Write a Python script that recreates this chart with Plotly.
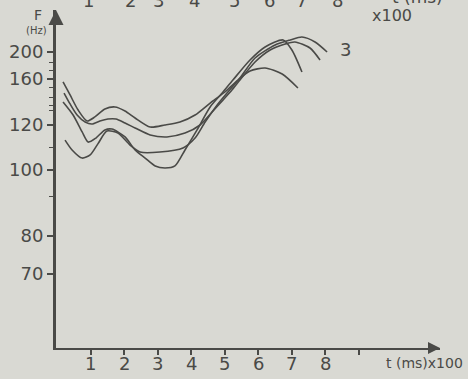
import numpy as np
import plotly.graph_objects as go

# ---- data (time in units of 100 ms, frequency in Hz) ----
t_a = [0.18, 0.39, 0.63, 0.90, 1.13, 1.43, 1.73, 2.03, 2.33, 2.78, 3.22, 3.67, 4.12, 4.57, 5.01, 5.40, 5.76, 6.21, 6.72, 7.19]
f_a = [157.4, 146.1, 133.0, 123.5, 127.0, 133.9, 135.7, 132.2, 126.1, 119.1, 120.0, 122.6, 128.7, 139.1, 148.7, 159.1, 171.9, 176.3, 167.4, 152.2]

t_b = [0.21, 0.39, 0.60, 0.84, 1.04, 1.28, 1.52, 1.76, 2.03, 2.33, 2.78, 3.28, 3.82, 4.27, 4.63, 4.93, 5.22, 5.46, 5.91, 6.36, 6.81, 7.10, 7.55, 7.85]
f_b = [147.8, 138.3, 128.7, 122.6, 120.9, 123.5, 125.2, 125.2, 121.7, 118.7, 115.6, 114.7, 116.4, 120.0, 131.3, 140.9, 150.4, 159.1, 185.2, 203.0, 211.8, 214.8, 205.9, 188.1]

t_c = [0.18, 0.48, 0.75, 0.93, 1.16, 1.43, 1.64, 2.03, 2.33, 2.63, 2.93, 3.22, 3.52, 3.82, 4.18, 4.57, 4.93, 5.25, 5.76, 6.21, 6.75, 7.01, 7.31]
f_c = [140.0, 128.7, 116.9, 112.4, 114.2, 117.8, 118.2, 114.7, 108.9, 105.3, 101.8, 100.9, 101.8, 108.9, 117.8, 135.7, 147.8, 159.1, 188.1, 207.4, 217.8, 203.0, 170.4]

t_d = [0.24, 0.45, 0.75, 0.99, 1.22, 1.49, 1.82, 2.18, 2.48, 3.07, 3.76, 4.12, 4.42, 4.78, 5.10, 5.46, 5.91, 6.51, 6.96, 7.31, 7.70, 8.06]
f_d = [113.3, 108.9, 105.3, 106.7, 111.6, 117.3, 116.4, 111.1, 108.0, 108.0, 109.8, 114.2, 122.6, 137.4, 148.7, 161.5, 191.1, 210.4, 217.8, 222.2, 214.8, 200.0]

x_tick_vals = [1, 2, 3, 4, 5, 6, 7, 8, 9]
x_tick_text = ["1", "2", "3", "4", "5", "6", "7", "8", ""]
y_tick_hz = [70, 80, 100, 120, 160, 200]
y_minor_hz = [185, 173, 153, 144, 137, 133, 110, 92]
top_bleed_text = ["1", "2", "3", "4", "5", "6", "7", "8"]
top_bleed_x = [0.93, 2.18, 3.04, 4.10, 5.31, 6.34, 7.30, 8.36]

# ---- hand-drawn (non-uniform) frequency scale of the original figure ----
SCALE_HZ = [70, 80, 100, 120, 160, 200]
SCALE_POS = [74, 112, 178, 223, 269, 296]


def hz_to_axis(hz):
    hz = np.asarray(hz, dtype=float)
    out = np.interp(hz, SCALE_HZ, SCALE_POS)
    hi = hz > SCALE_HZ[-1]
    slope = (SCALE_POS[-1] - SCALE_POS[-2]) / (SCALE_HZ[-1] - SCALE_HZ[-2])
    out[hi] = SCALE_POS[-1] + (hz[hi] - SCALE_HZ[-1]) * slope
    return out


INK = "#4a4a47"
BG = "#d9d9d3"
FONT = "DejaVu Sans"

fig = go.Figure()
for tx, fy in [(t_a, f_a), (t_b, f_b), (t_c, f_c), (t_d, f_d)]:
    fig.add_trace(go.Scatter(
        x=tx, y=hz_to_axis(fy), mode="lines",
        line=dict(color=INK, width=1.6, shape="spline", smoothing=0.7),
        hoverinfo="skip", showlegend=False, cliponaxis=False))

fig.update_layout(
    width=468, height=379,
    margin=dict(l=56, r=28, t=10, b=31, autoexpand=False),
    paper_bgcolor=BG, plot_bgcolor=BG,
    showlegend=False,
    xaxis=dict(
        range=[-0.03, 11.43], showgrid=False, zeroline=False, automargin=False,
        showline=True, linecolor=INK, linewidth=2,
        tickmode="array", tickvals=x_tick_vals, showticklabels=False,
        ticks="outside", ticklen=5, tickwidth=1.5, tickcolor=INK,
    ),
    yaxis=dict(
        range=[0, 338], showgrid=False, zeroline=False, automargin=False,
        showline=True, linecolor=INK, linewidth=3,
        tickmode="array", tickvals=hz_to_axis(y_tick_hz).tolist(),
        ticktext=[str(v) for v in y_tick_hz],
        ticks="outside", ticklen=6, tickwidth=1.5, tickcolor=INK,
        tickfont=dict(family=FONT, size=18, color=INK),
        minor=dict(tickmode="array", tickvals=hz_to_axis(y_minor_hz).tolist(),
                   ticks="outside", ticklen=4, tickwidth=1.2, tickcolor=INK),
    ),
)

# x tick labels (placed close under the axis, as in the original)
for xv, tx in zip(x_tick_vals, x_tick_text):
    if tx:
        fig.add_annotation(x=xv, y=0, xref="x", yref="paper", yshift=-15,
                           xanchor="center", yanchor="middle", text=tx, showarrow=False,
                           font=dict(family=FONT, size=18, color=INK))

# axis arrows
fig.add_annotation(x=11.43, y=0, xref="x", yref="y", ax=-12, ay=0, text="",
                   showarrow=True, arrowhead=2, arrowsize=1.2, arrowwidth=2, arrowcolor=INK)
fig.add_annotation(x=-0.03, y=338, xref="x", yref="y", ax=0, ay=12, text="",
                   showarrow=True, arrowhead=2, arrowsize=1.0, arrowwidth=3, arrowcolor=INK)

# texts
fig.add_annotation(x=0, y=1, xref="paper", yref="paper", xshift=-18, yshift=-5,
                   xanchor="center", yanchor="middle", text="F",
                   showarrow=False, font=dict(family=FONT, size=14, color=INK))
fig.add_annotation(x=0, y=1, xref="paper", yref="paper", xshift=-20, yshift=-20,
                   xanchor="center", yanchor="middle", text="(Hz)",
                   showarrow=False, font=dict(family=FONT, size=10, color=INK))
fig.add_annotation(x=8.6, y=hz_to_axis([203])[0], xref="x", yref="y", text="3",
                   xanchor="center", yanchor="middle",
                   showarrow=False, font=dict(family=FONT, size=18, color=INK))
fig.add_annotation(x=1, y=0, xref="paper", yref="paper", xshift=25, yshift=-15,
                   xanchor="right", yanchor="middle", text="t (ms)x100",
                   showarrow=False, font=dict(family=FONT, size=14, color=INK))

# bleed-through from the previous figure at the top edge
for xv, tx in zip(top_bleed_x, top_bleed_text):
    fig.add_annotation(x=xv, y=1, xref="x", yref="paper", yshift=10,
                       xanchor="center", yanchor="middle",
                       text=tx, showarrow=False, font=dict(family=FONT, size=18, color=INK))
fig.add_annotation(x=10.75, y=1, xref="x", yref="paper", yshift=13,
                   xanchor="center", yanchor="middle",
                   text="t (ms)", showarrow=False, font=dict(family=FONT, size=17, color=INK))
fig.add_annotation(x=10.0, y=1, xref="x", yref="paper", yshift=-5,
                   xanchor="center", yanchor="middle", text="x100",
                   showarrow=False, font=dict(family=FONT, size=16, color=INK))

fig.write_html("out.html")
